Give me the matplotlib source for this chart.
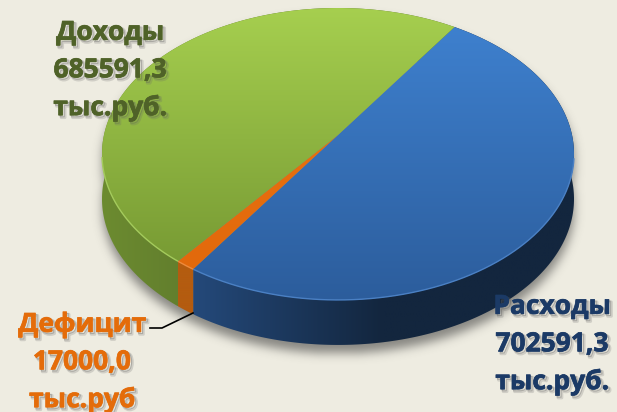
import numpy as np
import matplotlib
matplotlib.use("Agg")
import matplotlib.pyplot as plt
import matplotlib.patheffects as pe
from matplotlib.patches import Polygon
from matplotlib.path import Path
from matplotlib.colors import LinearSegmentedColormap

names = ["Расходы", "Дефицит", "Доходы"]
values = [702591.3, 17000.0, 685591.3]
labels = ["Расходы\n702591,3\nтыс.руб.", "Дефицит\n17000,0\nтыс.руб", "Доходы\n685591,3\nтыс.руб."]
top_colors = [("#3E80CE", "#2C5D9C"), ("#E8700F", "#E2690C"), ("#A6CF4F", "#789B34")]
side_colors = [("#24497A", "#13263E"), ("#B45C10", "#B45C10"), ("#6C8B30", "#566F2A")]
edge_colors = ["#4A80C4", "#EE8A3C", "#A4CB5C"]
text_colors = ["#1B3A66", "#E46C0A", "#4F6228"]
label_pos = [(552, 344), (82, 362), (110, 70)]

W, H = 617, 412
CX, CY, RX, RY, K, DEPTH = 338.0, 135.0, 234.0, 143.5, 0.13, 45.0
START = 56.5
BG = "#EEECE1"

plt.rcParams["font.family"] = ["Open Sans", "DejaVu Sans"]
fig = plt.figure(figsize=(W / 100, H / 100), dpi=100, facecolor=BG)
ax = fig.add_axes([0, 0, 1, 1])
ax.set_axis_off()


def project(theta_deg):
    t = np.radians(theta_deg)
    x, y = np.cos(t), np.sin(t)
    w = 1 + K * y
    return CX + RX * x / w, CY - RY * y / w


def gradient(poly_xy, c0, c1, horizontal, zorder):
    stops = [(0, c0), (0.5, c1), (1, c1)] if horizontal else [(0, c0), (1, c1)]
    cmap = LinearSegmentedColormap.from_list("g", stops)
    x0, y0 = poly_xy.min(axis=0)
    x1, y1 = poly_xy.max(axis=0)
    arr = np.linspace(0, 1, 256)
    arr = arr[None, :] if horizontal else arr[:, None]
    im = ax.imshow(arr, cmap=cmap, extent=(x0, x1, y1, y0), aspect="auto", zorder=zorder,
                   interpolation="bilinear", origin="upper")
    patch = Polygon(poly_xy, closed=True, transform=ax.transData, fc="none", ec="none")
    ax.add_patch(patch)
    im.set_clip_path(patch)


fractions = np.array(values) / sum(values)
ends = START - np.cumsum(fractions) * 360
starts = np.r_[START, ends[:-1]]

# soft shadow under the whole disc
tt = np.linspace(0, 360, 721)
ex, ey = project(tt)
gx, gy = np.meshgrid(np.arange(W), np.arange(H))
pts = np.c_[gx.ravel(), gy.ravel()]
mask = (Path(np.c_[ex, ey]).contains_points(pts - [0, 8]) |
        Path(np.c_[ex, ey + DEPTH]).contains_points(pts - [0, 8])).reshape(H, W).astype(float)
fy = np.fft.fftfreq(H)[:, None]
fx = np.fft.fftfreq(W)[None, :]
blur = np.fft.ifft2(np.fft.fft2(mask) * np.exp(-2 * (np.pi * 5.0) ** 2 * (fx ** 2 + fy ** 2))).real
shadow = np.zeros((H, W, 4))
shadow[..., :3] = 0.2
shadow[..., 3] = np.clip(blur, 0, 1) * 0.55
ax.imshow(shadow, extent=(0, W, H, 0), aspect="auto", zorder=1)

# side wall
for s, e, (c0, c1) in zip(starts, ends, side_colors):
    a = np.linspace(s, e, 300)
    x, y = project(a)
    poly = np.r_[np.c_[x, y], np.c_[x, y + DEPTH][::-1]]
    gradient(poly, c0, c1, True, 2)

# top face
for s, e, (c0, c1), ec in zip(starts, ends, top_colors, edge_colors):
    a = np.linspace(s, e, 300)
    x, y = project(a)
    poly = np.r_[[[CX, CY]], np.c_[x, y]]
    gradient(poly, c0, c1, False, 3)
    front = np.sin(np.radians(a)) < -0.15
    ax.plot(x[front], y[front], color=ec, lw=1.0, zorder=4, solid_capstyle="butt")

# leader line of the small slice
ax.plot([150, 162, 193], [328, 328, 313], color="black", lw=1.2, zorder=5)

# labels
for txt, (lx, ly), col in zip(labels, label_pos, text_colors):
    ax.text(lx, ly, txt, ha="center", va="center", fontsize=19, fontweight="bold",
            color=col, linespacing=1.5, zorder=6,
            path_effects=[pe.SimpleLineShadow(offset=(1.8, -1.8), shadow_color="#666666", alpha=0.22, linewidth=2.0),
                          pe.SimpleLineShadow(offset=(1.2, -1.2), shadow_color="#555555", alpha=0.3, linewidth=0.8),
                          pe.withStroke(linewidth=0.5, foreground=col)])

ax.set_xlim(0, W)
ax.set_ylim(H, 0)
fig.savefig("out.png", dpi=100, facecolor=BG)
